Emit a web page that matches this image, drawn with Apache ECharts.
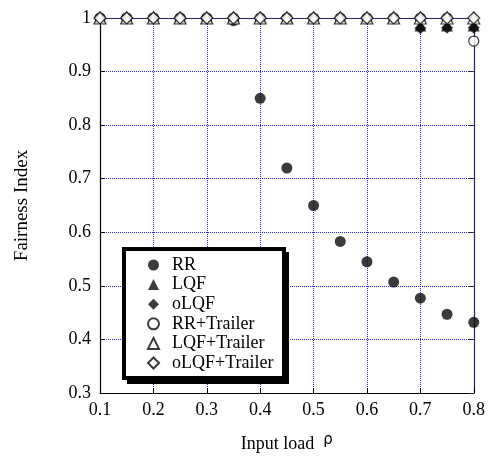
<!DOCTYPE html>
<html>
<head>
<meta charset="utf-8">
<script src="https://cdn.jsdelivr.net/npm/echarts@6/dist/echarts.min.js"></script>
<style>
  html, body { margin: 0; padding: 0; background: #fff; }
  #chart { width: 488px; height: 459px; }
</style>
</head>
<body>
<div id="chart"></div>
<script>
// input load values (x)
const loads = [0.1, 0.15, 0.2, 0.25, 0.3, 0.35, 0.4, 0.45, 0.5, 0.55, 0.6, 0.65, 0.7, 0.75, 0.8];
// fairness index per scheme
const rr = [1, 1, 1, 1, 1, 0.995, 0.85, 0.72, 0.65, 0.583, 0.545, 0.507, 0.477, 0.447, 0.432];
const lqf = [1, 1, 1, 1, 1, 1, 1, 1, 1, 1, 1, 1, 0.986, 0.986, 0.986];
const olqf = [1, 1, 1, 1, 1, 1, 1, 1, 1, 1, 1, 1, 0.981, 0.982, 0.982];
const rrTrailer = [1, 1, 1, 1, 1, 1, 1, 1, 1, 1, 1, 1, 1, 1, 0.957];
const lqfTrailer = [1, 1, 1, 1, 1, 1, 1, 1, 1, 1, 1, 1, 1, 1, 1];
const olqfTrailer = [1, 1, 1, 1, 1, 1, 1, 1, 1, 1, 1, 1, 1, 1, 1];
const seriesNames = ['RR', 'LQF', 'oLQF', 'RR+Trailer', 'LQF+Trailer', 'oLQF+Trailer'];

const font = "'Liberation Serif', 'Times New Roman', serif";
let myChart = echarts.init(document.getElementById('chart'));

function pts(arr) {
    return arr.map((v, i) => [loads[i], v]);
}
function mk(name, arr, symbol, size, filled) {
    return {
        name: name,
        type: 'scatter',
        data: pts(arr),
        symbol: symbol,
        symbolSize: size,
        itemStyle: {
            color: filled ? '#0a0a0a' : '#fff',
            borderColor: '#0a0a0a',
            borderWidth: filled ? 0 : 1.2
        },
        z: 5
    };
}

let option = {
    animation: false,
    grid: { left: 100, right: 13, top: 18, bottom: 66 },
    legend: {
        orient: 'vertical',
        left: 142,
        top: 251,
        itemWidth: 11,
        itemHeight: 11,
        itemGap: 1.6,
        data: seriesNames,
        textStyle: { fontFamily: font, fontSize: 18, color: '#000', padding: [0, 0, 0, 8] },
        z: 10
    },
    graphic: [
        { type: 'rect', z: 8, shape: { x: 127, y: 252, width: 162, height: 132 }, style: { fill: '#000' } },
        { type: 'rect', z: 8, shape: { x: 124, y: 249, width: 160, height: 129 }, style: { fill: '#fff', stroke: '#000', lineWidth: 4 } }
    ],
    xAxis: [{
        type: 'value',
        min: 0.1, max: 0.8, interval: 0.1,
        name: 'Input load  {r|ρ}',
        nameLocation: 'middle',
        nameGap: 40,
        nameTextStyle: {
            fontFamily: font, fontSize: 18, color: '#000',
            rich: { r: { fontFamily: 'DejaVu Sans', fontSize: 15, padding: [0, 0, 8, 0] } }
        },
        axisLine: { lineStyle: { color: '#000', width: 1 } },
        axisTick: { inside: true, length: 5, lineStyle: { color: '#000' } },
        axisLabel: { fontFamily: font, fontSize: 18, color: '#000', margin: 8, formatter: v => v.toFixed(1) },
        splitLine: { show: true, lineStyle: { color: '#2222ee', type: 'dotted', width: 1 } }
    }, {
        type: 'value', position: 'top',
        min: 0.1, max: 0.8, interval: 0.1,
        axisLine: { show: true, lineStyle: { color: '#222266', width: 1 } },
        axisTick: { show: true, inside: true, length: 5, lineStyle: { color: '#222' } },
        axisLabel: { show: false },
        splitLine: { show: false }
    }],
    yAxis: [{
        type: 'value',
        min: 0.3, max: 1, interval: 0.1,
        name: 'Fairness Index',
        nameLocation: 'middle',
        nameGap: 68,
        nameTextStyle: { fontFamily: font, fontSize: 19, color: '#000' },
        axisLine: { show: true, lineStyle: { color: '#000', width: 1.2 } },
        axisTick: { show: true, inside: true, length: 5, lineStyle: { color: '#000' } },
        axisLabel: { fontFamily: font, fontSize: 18, color: '#000', margin: 9, formatter: v => (Math.abs(v - 1) < 1e-9 ? '1' : v.toFixed(1)) },
        splitLine: { show: true, lineStyle: { color: '#2222ee', type: 'dotted', width: 1 } }
    }, {
        type: 'value', position: 'right',
        min: 0.3, max: 1, interval: 0.1,
        axisLine: { show: true, lineStyle: { color: '#222266', width: 1.2 } },
        axisTick: { show: true, inside: true, length: 5, lineStyle: { color: '#222' } },
        axisLabel: { show: false },
        splitLine: { show: false }
    }],
    series: [
        mk('RR', rr, 'circle', 11, true),
        mk('LQF', lqf, 'triangle', 12, true),
        mk('oLQF', olqf, 'diamond', 12, true),
        mk('RR+Trailer', rrTrailer, 'circle', 10, false),
        mk('LQF+Trailer', lqfTrailer, 'triangle', 12, false),
        mk('oLQF+Trailer', olqfTrailer, 'diamond', 12, false)
    ]
};
myChart.setOption(option, true);
</script>
</body>
</html>
